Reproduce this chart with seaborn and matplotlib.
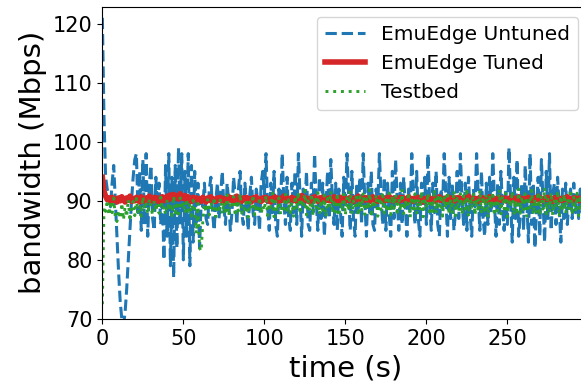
import numpy as np
import pandas as pd
import matplotlib
matplotlib.use("Agg")
import matplotlib.pyplot as plt
import seaborn as sns

untuned = [
    121, 104, 94, 92, 91, 89, 93, 96, 90, 84,
    78, 73, 70, 69, 71, 75, 80, 85, 90, 94,
    97, 98,
    88, 95, 85, 97, 86, 98, 84, 93, 96, 87,
    85, 94, 89, 93, 86, 91, 80, 96, 84, 98,
    79, 94, 77, 96, 82, 99, 86, 98, 80, 95,
    84, 98, 79, 96, 83, 95, 86, 93, 82, 90,
    89, 93, 87, 86, 92, 94, 88, 85, 90, 93,
    87, 91, 95, 89, 86, 93, 90, 85, 88, 94,
    91, 86, 92, 95, 88, 86, 93, 89, 85, 91,
    94, 88, 86, 92, 90, 85, 93, 95,
    91, 98, 89, 85, 93, 88, 95, 86, 84, 92,
    89, 98, 90, 86, 94, 87, 85, 93, 88, 95,
    86, 98, 91, 84, 92, 89, 95, 86, 85, 93,
    88, 98, 90, 85, 94, 87, 93, 84, 89, 95,
    87, 97, 90, 86, 93, 85, 92, 88, 84, 94,
    89, 98, 91, 85, 95, 87, 84, 93, 88, 94,
    86, 98, 90, 84, 93, 88, 95, 86, 85, 92,
    89, 98, 91, 86, 94, 85, 93, 88, 84, 95,
    87, 97, 90, 85, 93, 86, 94, 89, 84, 92,
    88, 98, 91, 86, 95, 87, 84, 93, 89, 94,
    86, 98, 90, 85, 93, 88, 95, 86, 84, 92,
    89, 98, 91, 84, 94, 87, 93, 85, 88, 95,
    87, 98, 90, 86, 93, 85, 94, 88, 84, 92,
    89, 98, 91, 85, 95, 87, 84, 93, 86, 94,
    88, 98, 90, 84, 93, 86, 95, 89, 85, 92,
    86, 99, 90, 83, 94, 87, 97, 84, 88, 93,
    85, 96, 90, 83, 98, 86, 93, 82, 89, 94,
    84, 97, 90, 83, 95, 87, 98, 85, 91, 93,
    86, 94, 89, 83, 92, 87, 93, 86, 90, 92,
    87, 93, 88, 91, 87, 92, 88, 93, 87, 91,
]

tuned = [
    94.0, 91.6, 90.8, 90.2, 90.5, 89.9, 90.6, 90.1, 90.4, 89.8,
    90.5, 90.0, 90.7, 90.2, 89.8, 90.5, 90.1, 90.8, 89.9, 90.4,
    90.0, 90.6, 90.2, 89.8, 90.7, 90.3, 89.9, 90.5, 90.1, 90.8,
    90.2, 89.9, 90.6, 90.1, 90.5, 89.8, 90.4, 90.7, 90.0, 90.3,
    90.8, 90.2, 91.0, 90.4, 91.1, 90.5, 90.9, 90.3, 91.2, 90.6,
    90.4, 90.9, 90.1, 90.7, 90.3, 89.9, 90.6, 90.2, 90.5, 90.0,
    90.4, 89.9, 90.6, 90.2, 89.8, 90.5, 90.1, 90.7, 90.0, 90.3,
    89.9, 90.5, 90.2, 90.6, 90.0, 90.4, 89.8, 90.3, 90.7, 90.1,
    90.5, 90.0, 90.3, 90.8, 90.1, 90.4, 89.9, 90.5, 90.2, 90.6,
    90.0, 90.4, 89.8, 90.5, 90.2, 90.7, 90.1, 90.3, 89.9, 90.5,
    90.2, 90.6, 90.0, 90.4, 89.8, 90.3, 90.7, 90.1, 90.5, 89.9,
    90.4, 90.1, 90.8, 90.2, 90.5, 90.0, 90.3, 90.6, 90.1, 90.4,
    89.9, 90.5, 90.2, 90.9, 90.3, 90.6, 90.0, 90.4, 89.8, 90.5,
    90.1, 90.7, 90.3, 89.9, 90.5, 90.2, 90.6, 90.0, 90.4, 90.1,
    90.5, 90.0, 90.3, 90.7, 90.1, 90.4, 89.9, 90.6, 90.2, 90.5,
    90.0, 90.4, 90.1, 90.6, 90.3, 89.9, 90.5, 90.2, 90.8, 90.1,
    90.4, 90.0, 90.6, 90.2, 90.5, 89.9, 90.3, 90.7, 90.1, 90.4,
    89.9, 90.5, 90.2, 90.6, 90.0, 90.4, 90.1, 90.8, 90.3, 90.0,
    90.5, 90.1, 90.4, 89.9, 90.6, 90.2, 90.5, 90.0, 90.3, 90.7,
    90.1, 90.4, 89.9, 90.5, 90.2, 90.6, 90.0, 90.3, 89.8, 90.4,
    90.2, 90.6, 90.0, 90.4, 90.1, 90.5, 89.9, 90.3, 90.7, 90.1,
    90.4, 90.0, 90.5, 90.2, 90.6, 90.1, 90.4, 89.9, 90.5, 90.2,
    90.6, 90.1, 90.4, 90.0, 90.5, 90.2, 90.8, 90.3, 90.0, 90.5,
    90.1, 90.4, 89.9, 90.6, 90.2, 90.5, 90.0, 90.4, 90.1, 90.7,
    90.2, 90.5, 90.0, 90.4, 89.9, 90.6, 90.1, 90.3, 90.5, 90.0,
    90.4, 90.1, 90.6, 90.2, 90.5, 89.9, 90.3, 90.7, 90.1, 90.4,
    90.0, 90.5, 90.2, 90.6, 90.1, 90.4, 89.9, 90.5, 90.2, 90.8,
    90.1, 90.4, 90.0, 90.5, 90.3, 90.6, 90.1, 90.4, 89.9, 90.5,
    90.2, 90.6, 90.0, 90.4, 90.1, 90.5, 90.2, 90.7, 90.0, 90.4,
    90.1, 90.5, 90.2, 90.6, 90.0, 90.4, 90.1, 90.5, 90.2, 90.4,
]

testbed = [
    72.5, 89.0, 88.2, 90.1, 87.6, 89.4, 88.0, 90.5, 87.2, 86.5,
    88.4, 87.0, 89.6, 86.8, 88.9, 87.3, 90.2, 86.6, 88.7, 89.9,
    87.5, 90.4, 88.1, 89.2, 87.4, 90.7, 88.6, 89.5, 87.8, 90.3,
    88.9, 87.6, 90.0, 88.3, 89.7, 87.9, 90.6, 88.5, 89.1, 87.7,
    90.2, 88.4, 89.6, 87.5, 90.8, 88.0, 89.3, 87.2, 90.5, 88.7,
    89.8, 87.9, 90.3, 88.2, 89.5, 87.4, 90.1, 88.6, 84.5, 89.6,
    82.0, 81.5, 86.5, 89.4, 88.1, 90.2, 87.6, 89.8, 88.4, 90.6,
    87.3, 89.1, 88.6, 90.4, 87.8, 89.7, 88.2, 91.0, 87.5, 89.3,
    88.8, 90.7, 87.4, 89.5, 88.3, 91.2, 87.9, 89.0, 88.5, 90.3,
    87.2, 89.8, 88.7, 91.0, 87.6, 89.4, 88.1, 90.6, 87.8, 89.2,
    88.4, 90.9, 87.5, 89.6, 88.9, 91.3, 87.3, 89.9, 88.2, 90.5,
    87.7, 89.3, 88.6, 91.1, 87.9, 90.2, 88.0, 89.7, 87.4, 90.8,
    88.5, 91.5, 87.8, 90.3, 88.8, 91.8, 87.6, 90.0, 88.3, 91.2,
    87.5, 90.6, 88.9, 91.4, 87.7, 90.1, 88.4, 91.0, 87.3, 90.4,
    88.6, 91.6, 87.9, 90.2, 88.1, 91.3, 87.4, 89.8, 88.7, 91.1,
    87.6, 90.5, 88.3, 91.7, 87.8, 90.0, 88.9, 91.2, 87.5, 90.7,
    88.2, 91.4, 87.7, 90.3, 88.6, 91.9, 87.3, 90.1, 88.8, 91.0,
    87.4, 90.6, 88.5, 91.5, 87.9, 90.2, 88.1, 91.3, 87.6, 90.8,
    88.7, 91.1, 87.5, 90.4, 88.3, 91.8, 87.8, 90.0, 88.9, 91.4,
    87.2, 90.7, 88.6, 91.2, 87.7, 90.3, 88.4, 91.6, 87.3, 90.5,
    88.8, 91.3, 87.6, 90.1, 88.2, 91.9, 87.9, 90.6, 88.5, 91.0,
    87.4, 90.8, 88.7, 91.5, 87.8, 90.2, 88.0, 91.7, 87.5, 90.4,
    88.3, 91.2, 87.7, 90.9, 88.6, 92.1, 87.4, 90.5, 88.9, 91.4,
    87.6, 90.3, 88.1, 91.8, 87.9, 90.7, 88.4, 91.1, 87.2, 90.6,
    88.7, 91.5, 87.5, 90.2, 88.3, 91.9, 87.8, 90.8, 88.6, 91.3,
    87.3, 90.4, 88.9, 91.6, 87.6, 90.1, 88.2, 92.0, 87.9, 90.7,
    88.5, 91.2, 87.4, 90.6, 88.8, 91.8, 87.7, 90.3, 88.1, 91.5,
    87.5, 90.9, 88.6, 92.2, 87.8, 90.5, 88.3, 91.4, 87.6, 90.2,
    88.9, 91.7, 87.3, 90.8, 88.4, 91.1, 87.9, 90.4, 88.7, 91.9,
    87.7, 90.6, 88.2, 91.3, 87.5, 90.9, 88.6, 91.6, 87.8, 90.3,
]

labels = ["EmuEdge Untuned", "EmuEdge Tuned", "Testbed"]
x_ticks = [0, 50, 100, 150, 200, 250]
y_ticks = [70, 80, 90, 100, 110, 120]

time_s = np.arange(len(untuned))

fig = plt.figure(figsize=(5.81, 3.88), dpi=100)
ax = fig.add_axes([0.1762, 0.178, 0.8365, 0.805])

sns.lineplot(x=time_s, y=untuned, ax=ax, color="#1f77b4", linestyle="--",
             linewidth=2.2, label=labels[0], estimator=None)
sns.lineplot(x=time_s, y=tuned, ax=ax, color="#d62728", linestyle="-",
             linewidth=4, label=labels[1], estimator=None)
sns.lineplot(x=time_s, y=testbed, ax=ax, color="#2ca02c", linestyle=":",
             linewidth=2.1, label=labels[2], estimator=None)

ax.set_xlim(0, 300)
ax.set_ylim(70, 122.9)
ax.set_xticks(x_ticks)
ax.set_yticks(y_ticks)
ax.tick_params(labelsize=15)
ax.set_xlabel("time (s)", fontsize=21)
ax.set_ylabel("bandwidth (Mbps)", fontsize=21)
ax.legend(loc="upper right", fontsize=14.5)

fig.savefig("out.png", dpi=100)
